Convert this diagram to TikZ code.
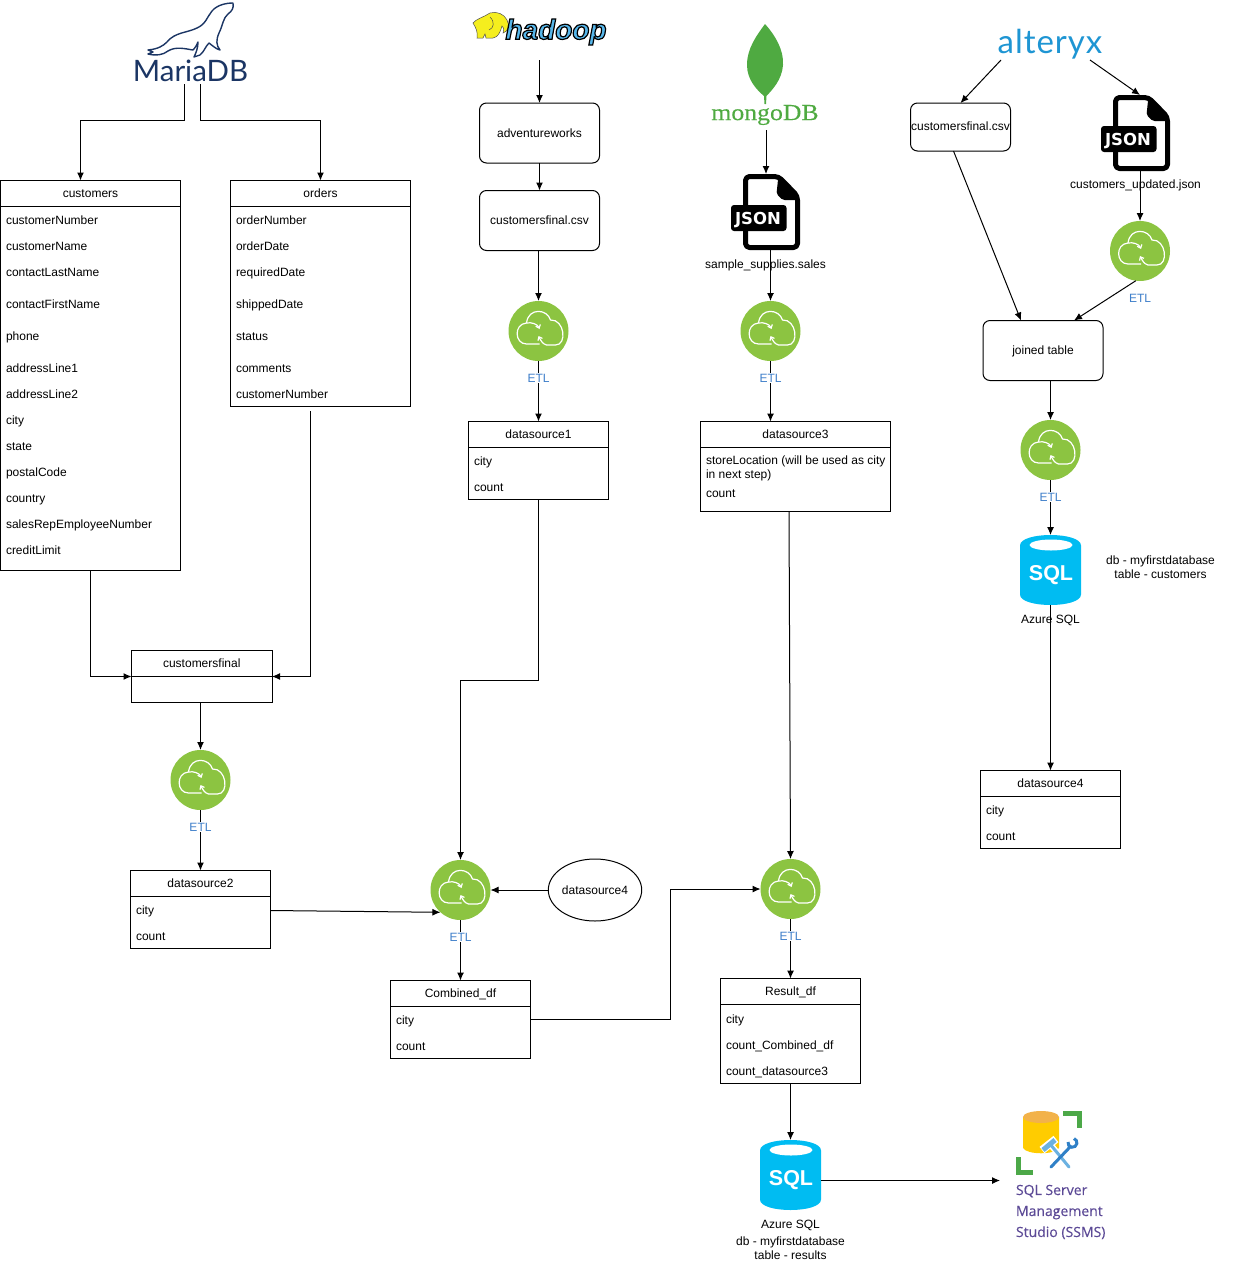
\documentclass[tikz,border=0pt]{standalone}
\usepackage{fontspec}
\setmainfont{Liberation Sans}
\newfontfamily\logofont{Lato}
\newfontfamily\alteryxfont[LetterSpace=3]{Lato}
\newfontfamily\serifloge[FakeStretch=1.12,FakeBold=0.3]{Liberation Serif}
\newfontfamily\ssmsfont[FakeBold=0.4]{Open Sans}
\newfontfamily\iconfont{DejaVu Sans}
\usetikzlibrary{arrows.meta,shapes.geometric}
\definecolor{etlgreen}{HTML}{8CC441}
\definecolor{etlblue}{HTML}{3F7FCA}
\definecolor{sqlblue}{HTML}{00BCF2}
\definecolor{marianavy}{HTML}{1B3564}
\definecolor{mongogreen}{HTML}{4FAA41}
\definecolor{alteryxblue}{HTML}{1E95D3}
\definecolor{hadoopblue}{HTML}{56B6EA}
\definecolor{hadoopyellow}{HTML}{F5EE1E}
\definecolor{ssmspurple}{HTML}{5C4A96}
\definecolor{ssmsgreen}{HTML}{4CA848}
\definecolor{ssmsyellow}{HTML}{FFCC00}
\definecolor{ssmsorange}{HTML}{F2B24A}
\definecolor{hammerblue}{HTML}{6BB1E1}
\definecolor{wrenchblue}{HTML}{2F80C7}
\tikzset{
  basefont/.style = {font=\fontsize{12}{14}\selectfont},
  tablehead/.style = {basefont, draw, anchor=north west, outer sep=0pt, inner sep=0pt, minimum height=26, text height=8.5, text depth=0},
  tablebody/.style = {draw, anchor=north west, outer sep=0pt, inner sep=0pt},
  tablerow/.style = {basefont, anchor=west, inner sep=0pt, text height=9, text depth=2.5, yshift=-1.75, xshift=-0.5},
  roundbox/.style = {basefont, draw, rounded corners=7pt, outer sep=0pt, inner sep=0pt, align=center, text height=8.5, text depth=0},
  etlnode/.style = {circle, fill=etlgreen, outer sep=0pt, inner sep=0pt, minimum size=60},
  etllabel/.style = {basefont, text=etlblue, fill=white, inner sep=1pt},
  iconbox/.style = {outer sep=0pt, inner sep=0pt},
  plain/.style = {basefont, align=center, inner sep=0pt, outer sep=0pt},
  link/.style = {draw, -{Latex[length=8pt,width=7pt]}},
  etlcloud/.pic = {
    \draw [white, line width=1.2, -{Straight Barb[length=3pt,width=5pt]}]
      (1,13) -- (-12,13) .. controls (-24,13) and (-25,-7) .. (-12,-8)
      .. controls (-7,-9) and (-1,-7) .. (1,-2);
    \draw [white, line width=1.2, -{Straight Barb[length=3pt,width=5pt]}]
      (-12,-8) .. controls (-10,-24) and (9,-22) .. (12,-11)
      .. controls (26,-12) and (29,14) .. (17,14)
      -- (8,14) .. controls (4,13) and (2,9) .. (0,5);
  },
  sqlcyl/.pic = {
    \fill [sqlblue] (-30.5,-24.5) .. controls (-30.5,-38.5) and (30.5,-38.5) .. (30.5,-24.5)
      -- (30.5,24.5) .. controls (30.5,38.5) and (-30.5,38.5) .. (-30.5,24.5) -- cycle;
    \fill [white] (0.5,-25) ellipse (21.5 and 5.5);
    \node [iconbox, text=white, font=\fontsize{21.5}{22}\selectfont\bfseries] (text) at (0.5,5) {SQL};
  },
  jsonfile/.pic = {
    \draw [line width=5, line join=round, rounded corners=4]
      (-20,-35.5) -- (13,-35.5) -- (32,-16) -- (32,35.5) -- (-20,35.5) -- cycle;
    \fill [rounded corners=2] (13,-37) -- (33,-16) -- (33,-12) -- (17,-12) -- (11,-18) -- cycle;
    \fill [rounded corners=3] (-34.5,-7) rectangle (21,19);
    \node [iconbox, text=white, font=\iconfont\fontsize{16.5}{17}\selectfont\bfseries] (text) at (-7.5,8) {JSON};
  },
}
\begin{document}
\begin{tikzpicture}[x=1pt,y=-1pt,line width=1pt]
\useasboundingbox (0,0) rectangle (1241,1277);

% mariadb logo
\draw [marianavy, line width=1.4, fill=white, line join=round]
  (233,3) .. controls (226,3) and (217,5) .. (212,11) .. controls (207,17) and (206,24) .. (197,28)
  .. controls (187,33) and (175,32) .. (167,42) .. controls (163,46) and (158,49) .. (148,50)
  -- (153,52) -- (148,54) .. controls (156,56) and (163,55) .. (168,51)
  .. controls (176,46) and (186,49) .. (193,50) .. controls (196,47) and (197,44) .. (198,42)
  .. controls (198,48) and (196,53) .. (194,57) -- (200,55) .. controls (204,52) and (205,47) .. (209,43)
  .. controls (213,46) and (216,49) .. (220,50) .. controls (216,45) and (216,40) .. (219,33)
  .. controls (223,25) and (223,18) .. (228,14) .. controls (232,11) and (234,8) .. (233,3) -- cycle;
\node [iconbox, text=marianavy, font=\logofont\fontsize{29.5}{30}\selectfont] (mariadb) at (190.5,70.5) {MariaDB};
\coordinate (maria-l) at (184.5,84);
\coordinate (maria-r) at (200.5,84);

% hadoop logo
\fill [hadoopyellow, draw=black!70, line width=0.5]
  (490,13) .. controls (497,11) and (504,14) .. (507,20) .. controls (510,25) and (508,32) .. (503,33)
  .. controls (504,29) and (504,27) .. (502,26) .. controls (500,33) and (498,37) .. (493,38)
  -- (486,38) -- (485,34) -- (483,38) -- (477,38) .. controls (478,32) and (476,28) .. (473,23)
  .. controls (476,19) and (484,17) .. (490,13) -- cycle;
\draw [black!70, line width=0.5] (490,17) .. controls (495,22) and (494,28) .. (489,30);
\node [iconbox, text=hadoopblue, font=\fontsize{28}{28}\selectfont\bfseries\itshape] (hadoop) at (556,32)
  {\special{pdf:code 2 Tr 1.2 w 0 0 0 RG}hadoop\special{pdf:code 0 Tr}};
\coordinate (hadoop-out) at (539.5,60);

% mongodb logo
\fill [mongogreen] (765,24) .. controls (775,35) and (784,50) .. (783,65)
  .. controls (782,80) and (772,90) .. (766.5,96) -- (766,104) -- (764.5,104) -- (764,96)
  .. controls (757,90) and (747,80) .. (747,65) .. controls (747,48) and (757,35) .. (765,24) -- cycle;
\node [iconbox, text=mongogreen, font=\serifloge\fontsize{23}{23}\selectfont] (mongodb) at (765,115) {mongoDB};
\coordinate (mongo-out) at (766,130);

% alteryx logo
\node [iconbox, text=alteryxblue, font=\alteryxfont\fontsize{33}{33}\selectfont] (alteryx) at (1050,44) {alteryx};
\coordinate (alteryx-l) at (1001,60);
\coordinate (alteryx-r) at (1090,60);

% customers table
\node [tablehead, minimum width=180] (customers-head) at (0.5,180.5) {customers};
\node [tablebody, minimum width=180, minimum height=364] (customers-body) at (0.5,206.5) {};
\foreach \rowy/\rowtext [count=\i] in {219/customerNumber, 245/customerName, 271/contactLastName, 303/contactFirstName, 335/phone, 367/addressLine1, 393/addressLine2, 419/city, 445/state, 471/postalCode, 497/country, 523/salesRepEmployeeNumber, 549/creditLimit}
  \node [tablerow] (customers-\i) at (6,\rowy) {\rowtext};

% orders table
\node [tablehead, minimum width=180] (orders-head) at (230.5,180.5) {orders};
\node [tablebody, minimum width=180, minimum height=200] (orders-body) at (230.5,206.5) {};
\foreach \rowy/\rowtext [count=\i] in {219/orderNumber, 245/orderDate, 271/requiredDate, 303/shippedDate, 335/status, 367/comments, 393/customerNumber}
  \node [tablerow] (orders-\i) at (236,\rowy) {\rowtext};

% customersfinal table
\node [tablehead, minimum width=140.5] (final-head) at (131.5,650.5) {customersfinal};
\node [tablebody, minimum width=140.5, minimum height=26] (final-body) at (131.5,676.5) {};

% datasource2 table
\node [tablehead, minimum width=140] (ds2-head) at (130.5,870.5) {datasource2};
\node [tablebody, minimum width=140, minimum height=52] (ds2-body) at (130.5,896.5) {};
\node [tablerow] (ds2-1) at (136,909) {city};
\node [tablerow] (ds2-2) at (136,935) {count};

% datasource1 table
\node [tablehead, minimum width=140] (ds1-head) at (468.5,421.5) {datasource1};
\node [tablebody, minimum width=140, minimum height=52] (ds1-body) at (468.5,447.5) {};
\node [tablerow] (ds1-1) at (474,460) {city};
\node [tablerow] (ds1-2) at (474,486) {count};

% datasource3 table
\node [tablehead, minimum width=190] (ds3-head) at (700.5,421.5) {datasource3};
\node [tablebody, minimum width=190, minimum height=64] (ds3-body) at (700.5,447.5) {};
\node [tablerow, text height=, text depth=, align=left] (ds3-1) at (706,466.5) {storeLocation (will be used as city\\in next step)};
\node [tablerow] (ds3-2) at (706,492.5) {count};

% datasource4 table
\node [tablehead, minimum width=140] (ds4-head) at (980.5,770.5) {datasource4};
\node [tablebody, minimum width=140, minimum height=52] (ds4-body) at (980.5,796.5) {};
\node [tablerow] (ds4-1) at (986,809) {city};
\node [tablerow] (ds4-2) at (986,835) {count};

% combined table
\node [tablehead, minimum width=140] (combined-head) at (390.5,980.5) {Combined\_df};
\node [tablebody, minimum width=140, minimum height=52] (combined-body) at (390.5,1006.5) {};
\node [tablerow] (combined-1) at (396,1019) {city};
\node [tablerow] (combined-2) at (396,1045) {count};

% result table
\node [tablehead, minimum width=140] (result-head) at (720.5,978.5) {Result\_df};
\node [tablebody, minimum width=140, minimum height=79] (result-body) at (720.5,1004.5) {};
\node [tablerow] (result-1) at (726,1018) {city};
\node [tablerow] (result-2) at (726,1044) {count\_Combined\_df};
\node [tablerow] (result-3) at (726,1070) {count\_datasource3};

% boxes
\node [roundbox, minimum width=120, minimum height=60] (adventure) at (539.5,133) {adventureworks};
\node [roundbox, minimum width=120, minimum height=60] (csv1) at (539.5,220.5) {customersfinal.csv};
\node [roundbox, minimum width=100, minimum height=48, text depth=2] (csv2) at (960.5,127) {customersfinal.csv};
\node [roundbox, minimum width=120, minimum height=60] (joined) at (1043,350.5) {joined table};
\node [plain, draw, ellipse, minimum width=88, minimum height=62] (ds4-src) at (595,890) {datasource4};

% etl icons
\foreach \name/\x/\y in {etl1/538.5/331, etl2/770.5/331, etl3/1140/251, etl4/1050.5/450, etl5/200.5/780, etl6/460.5/890, etl7/790.5/889} {
  \node [etlnode] (\name) at (\x,\y) {};
  \pic at (\x,\y) {etlcloud};
}

% json and sql icons
\node [iconbox, minimum width=70, minimum height=76] (json1) at (765.5,212) {};
\pic (json1-icon) at (json1) {jsonfile};
\node [iconbox, minimum width=70, minimum height=76] (json2) at (1135.5,133) {};
\pic (json2-icon) at (json2) {jsonfile};
\node [plain] (json1-label) at (765.5,265) {sample\_supplies.sales};
\node [plain] (json2-label) at (1135.5,185.5) {customers\_updated.json};
\node [iconbox, minimum width=61, minimum height=70] (sql1) at (1050.5,570) {};
\pic (sql1-icon) at (sql1) {sqlcyl};
\node [iconbox, minimum width=61, minimum height=70] (sql2) at (790.5,1175) {};
\pic (sql2-icon) at (sql2) {sqlcyl};
\node [plain] (sql1-label) at (1050.5,620) {Azure SQL};
\node [plain] (sql1-note) at (1160.5,567.5) {db - myfirstdatabase\\table - customers};
\node [plain] (sql2-label) at (790.5,1240) {Azure SQL\\[3pt]db - myfirstdatabase\\table - results};

% ssms icon
\fill [ssmsyellow] (1023,1117) -- (1059,1117) -- (1059,1148) .. controls (1055,1155) and (1027,1155) .. (1023,1148) -- cycle;
\fill [ssmsorange] (1041,1117) ellipse (18 and 6);
\draw [ssmsgreen, line width=5] (1063,1113) -- (1079,1113) -- (1079,1128);
\draw [ssmsgreen, line width=5] (1018,1157) -- (1018,1172) -- (1033,1172);
\draw [white, line width=8] (1042,1150) -- (1056,1139);
\draw [white, line width=6] (1050,1144) -- (1069,1167);
\draw [white, line width=6] (1051,1167) -- (1070,1147);
\draw [hammerblue, line width=3, line cap=round] (1069,1167) -- (1050,1144);
\draw [hammerblue, line width=5] (1043,1150) -- (1055,1140);
\draw [wrenchblue, line width=3, line cap=round] (1051,1167) -- (1070,1147);
\draw [wrenchblue, line width=3] (1068,1142) arc (190:-70:4.5);
\node [iconbox, anchor=west, align=left, text=ssmspurple, font=\ssmsfont\fontsize{14}{21}\selectfont] (ssms) at (1016,1212) {SQL Server\\Management\\Studio (SSMS)};
\coordinate (ssms-in) at (1000,1180.5);

% connectors
\draw [link] (maria-l) -- ++(0,36) -| ([xshift=-10]customers-head.north);
\draw [link] (maria-r) -- ++(0,36) -| (orders-head.north);
\draw [link] (customers-body.south) |- (final-head.south west);
\draw [link] ([xshift=-10,yshift=-4.5]orders-body.south) |- (final-head.south east);
\draw [link] (etl5.north |- final-body.south) -- (etl5.north);
\draw [link] (etl5.south) -- (ds2-head.north);
\draw [link] ([yshift=-14]ds2-head.south east) -- (etl6.228);
\draw [link] (ds4-src.west) -- (etl6.east);
\draw [link] (ds1-body.south) -- ++(0,180.5) -| (etl6.north);
\draw [link] (etl6.south) -- (combined-head.north);
\draw [link] ([yshift=-13]combined-body.north east) -- ++(139.5,0) |- (etl7.west);
\draw [link] ([xshift=-6.5]ds3-body.south) -- (etl7.north);
\draw [link] (etl7.south) -- (result-head.north);
\draw [link] (result-body.south) -- (sql2.north);
\draw [link] ([yshift=-5.5]sql2.east) -- (ssms-in);
\draw [link] (hadoop-out) -- (adventure.north);
\draw [link] (adventure.south) -- (csv1.north);
\draw [link] (etl1.north |- csv1.south) -- (etl1.north);
\draw [link] (etl1.south) -- (ds1-head.north);
\draw [link] (mongo-out) -- (mongo-out |- json1.north);
\draw [link] (etl2.north |- json1.south) -- (etl2.north);
\draw [link] (etl2.south) -- (etl2.south |- ds3-head.north);
\draw [link] (alteryx-l) -- (csv2.north);
\draw [link] (alteryx-r) -- ([xshift=4.5]json2.north);
\draw [link] ([xshift=-7]csv2.south) -- ([xshift=-22]joined.north);
\draw [link] (etl3.north |- json2.south) -- (etl3.north);
\draw [link] (etl3.262) -- ([xshift=31]joined.north);
\draw [link] (etl4.north |- joined.south) -- (etl4.north);
\draw [link] (etl4.south) -- (sql1.north);
\draw [link] (sql1.south) -- (ds4-head.north);

% etl captions
\foreach \name/\x/\y in {etl1/538.5/331, etl2/770.5/331, etl3/1140/251, etl4/1050.5/450, etl5/200.5/780, etl6/460.5/890, etl7/790.5/889}
  \node [etllabel] (\name-label) at (\x,\y+47) {ETL};
\end{tikzpicture}
\end{document}
